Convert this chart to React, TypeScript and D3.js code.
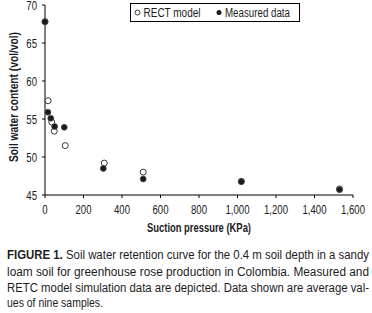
import React from "react";
import * as d3 from "d3";

const measuredX = [0, 15, 30, 50, 100, 303, 510, 1020, 1530];
const measuredY = [67.8, 55.9, 55.1, 54.0, 53.9, 48.5, 47.1, 46.75, 45.7];
const modelX = [0, 16, 35, 48, 105, 308, 510, 1020, 1530];
const modelY = [67.8, 57.4, 54.6, 53.4, 51.5, 49.2, 48.0, 46.8, 45.8];
const xTicks = [0, 200, 400, 600, 800, 1000, 1200, 1400, 1600];
const yTicks = [45, 50, 55, 60, 65, 70];
const seriesNames = ["RECT model", "Measured data"];
const captionLines = [
  "Soil water retention curve for the 0.4 m soil depth in a sandy",
  "loam soil for greenhouse rose production in Colombia. Measured and",
  "RETC model simulation data are depicted. Data shown are average val-",
  "ues of nine samples.",
];

const FONT = "'Liberation Sans', Arial, sans-serif";
const INK = "#1c1c24";
const SX = 0.74;

export default function App() {
  const x = d3.scaleLinear().domain([0, 1600]).range([45, 353]);
  const y = d3.scaleLinear().domain([45, 70]).range([195, 5]);
  const fmt = d3.format(",");
  const r = 3;

  return (
    <svg
      width={372}
      height={313}
      style={{ position: "absolute", left: 0, top: 0, background: "#fff" }}
      fontFamily={FONT}
    >
      {/* axes */}
      <line x1={x(0)} x2={x(0)} y1={y(70)} y2={y(45)} stroke="#000" strokeWidth={1} />
      <line x1={x(0)} x2={x(1600)} y1={y(45)} y2={y(45)} stroke="#000" strokeWidth={1} />
      {yTicks.map((t) => (
        <g key={"y" + t}>
          <line x1={x(0) - 3} x2={x(0)} y1={y(t)} y2={y(t)} stroke="#000" />
          <text
            transform={`translate(37,${y(t)}) scale(${SX},1)`}
            dy="0.35em"
            textAnchor="end"
            fontSize={13}
            fill={INK}
          >
            {t}
          </text>
        </g>
      ))}
      {xTicks.map((t) => (
        <g key={"x" + t}>
          <line x1={x(t)} x2={x(t)} y1={y(45)} y2={y(45) + 3} stroke="#000" />
          <text
            transform={`translate(${x(t)},209) scale(${SX},1)`}
            dy="0.35em"
            textAnchor="middle"
            fontSize={13}
            fill={INK}
          >
            {fmt(t)}
          </text>
        </g>
      ))}
      <text
        transform={`translate(13.5,97) rotate(-90)`}
        x={-65}
        dy="0.35em"
        fontSize={12}
        fontWeight="bold"
        fill={INK}
        textLength={130}
        lengthAdjust="spacingAndGlyphs"
      >
        Soil water content (vol/vol)
      </text>
      <text
        x={147}
        y={228}
        dy="0.35em"
        fontSize={12}
        fontWeight="bold"
        fill={INK}
        textLength={104}
        lengthAdjust="spacingAndGlyphs"
      >
        Suction pressure (KPa)
      </text>

      {/* model (open) */}
      {modelX.map((v, i) => (
        <circle key={"m" + i} cx={x(v)} cy={y(modelY[i])} r={r} fill="#fff" stroke="#222" strokeWidth={0.9} />
      ))}
      {/* measured (filled) */}
      {measuredX.map((v, i) => (
        <circle key={"d" + i} cx={x(v)} cy={y(measuredY[i])} r={r} fill="#1a1a1a" stroke="#555" strokeWidth={0.6} />
      ))}

      {/* legend */}
      <rect x={130.5} y={3.5} width={169} height={18} fill="#fff" stroke="#000" strokeWidth={1} />
      <circle cx={137.5} cy={12.5} r={2.5} fill="#fff" stroke="#222" strokeWidth={0.9} />
      <text
        x={143.5}
        y={12.5}
        dy="0.35em"
        fontSize={12}
        fill={INK}
        textLength={57}
        lengthAdjust="spacingAndGlyphs"
      >
        {seriesNames[0]}
      </text>
      <circle cx={219} cy={12.5} r={2.5} fill="#1a1a1a" />
      <text
        x={225}
        y={12.5}
        dy="0.35em"
        fontSize={12}
        fill={INK}
        textLength={65}
        lengthAdjust="spacingAndGlyphs"
      >
        {seriesNames[1]}
      </text>

      {/* caption */}
      <text
        x={7}
        y={255}
        dy="0.35em"
        fontSize={12.5}
        fill={INK}
        textLength={362}
        lengthAdjust="spacingAndGlyphs"
      >
        <tspan fontWeight="bold">FIGURE 1.</tspan> {captionLines[0]}
      </text>
      {captionLines.slice(1).map((line, i) => (
        <text
          key={"c" + i}
          x={7}
          y={271.5 + i * 15.8}
          dy="0.35em"
          fontSize={12.5}
          fill={INK}
          textLength={i < 2 ? 362 : 96}
          lengthAdjust="spacingAndGlyphs"
        >
          {line}
        </text>
      ))}
    </svg>
  );
}
